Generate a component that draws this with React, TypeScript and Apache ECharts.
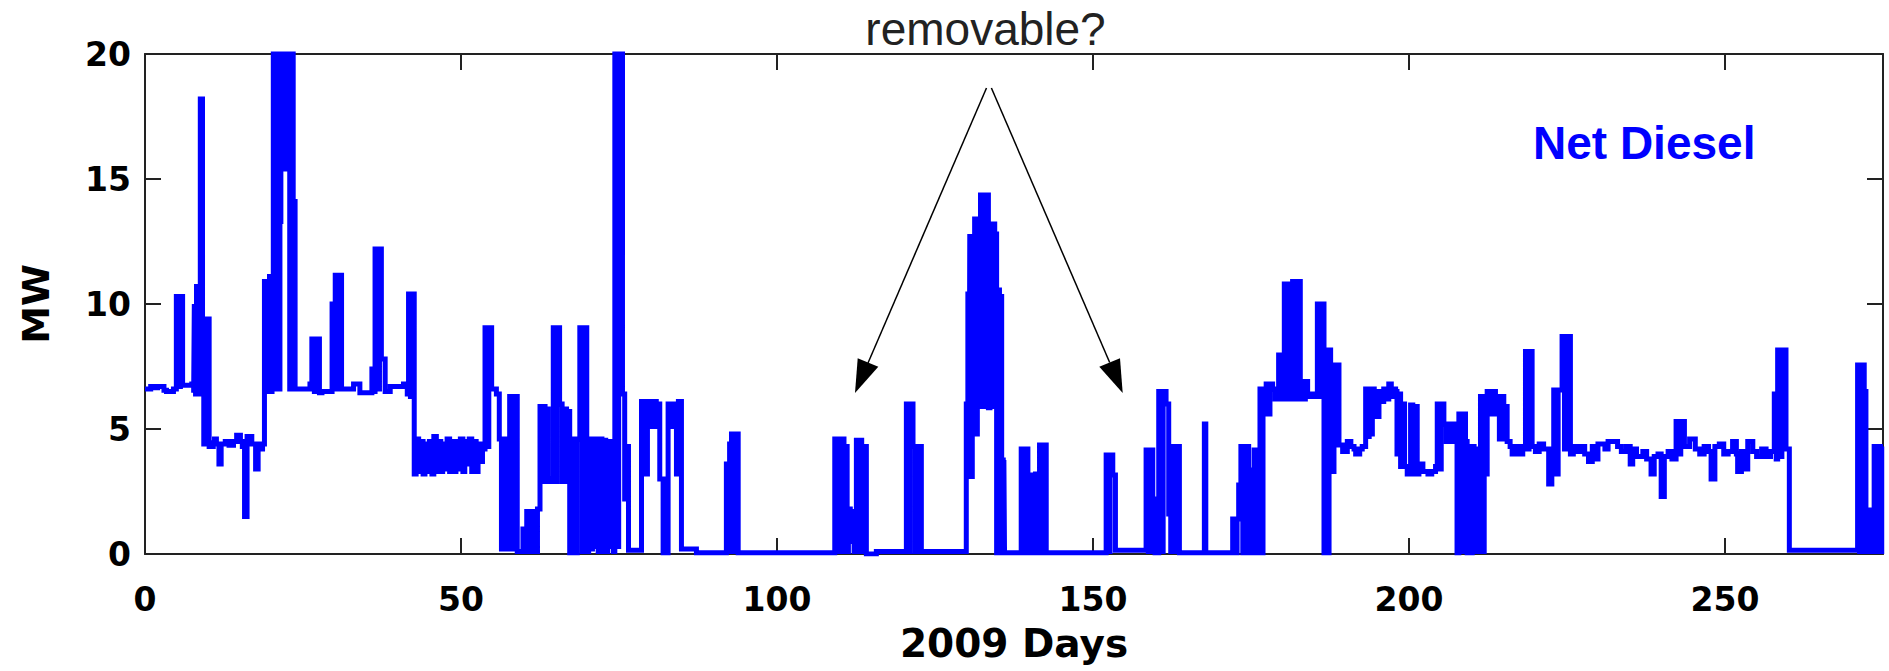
import React, { useEffect, useRef } from "react";
import * as echarts from "echarts";

// Net diesel output, [day of 2009, MW]; each level holds until the next day listed.
const segA: [number, number][] = [
  [0, 6.6], [0.9, 6.7], [1.6, 6.65], [2.0, 6.7], [3.0, 6.55], [3.4, 6.5], [4.5, 6.6],
  [4.96, 10.3], [5.3, 6.7], [5.6, 10.3], [5.95, 6.75], [7.4, 6.8], [7.7, 6.45],
  [7.8, 9.9], [8.0, 6.4], [8.15, 10.7], [8.4, 6.4], [8.55, 10.7], [8.75, 18.2], [9.1, 9.4],
  [9.3, 4.4], [9.5, 9.4], [9.7, 4.4], [9.85, 9.4], [10.15, 4.3],
  [10.8, 4.45], [11.0, 4.6], [11.3, 4.4], [11.7, 3.6], [12.05, 4.4], [12.7, 4.5], [13.3, 4.35],
  [14.0, 4.5], [14.5, 4.75], [15.1, 4.5], [15.4, 4.3], [15.75, 1.5], [16.15, 4.7], [16.9, 4.4],
  [17.5, 3.4], [17.9, 4.4], [18.3, 4.2], [18.6, 4.4],
  [18.9, 10.9], [19.1, 6.5], [19.3, 10.9], [19.5, 6.5], [19.7, 11.1], [19.9, 6.5], [20.1, 11.1],
  [20.3, 22], [20.5, 6.6], [20.65, 22], [20.85, 6.6], [21.0, 22], [21.2, 6.6], [21.35, 13.3],
  [21.5, 22], [21.7, 15.4], [21.9, 22], [22.1, 15.4], [22.3, 22], [22.45, 16.5], [22.65, 22],
  [22.9, 6.6], [23.05, 22], [23.45, 14.1], [23.75, 6.6],
];

const segB: [number, number][] = [
  [24.0, 6.6], [26.1, 6.8], [26.4, 8.6], [26.8, 6.5], [27.1, 8.6], [27.6, 6.45], [28.0, 6.5],
  [29.6, 10.0], [29.9, 6.6], [30.1, 11.15], [30.5, 6.6], [30.8, 11.15], [31.1, 6.6],
  [33.0, 6.8], [34.0, 6.45], [35.9, 7.4], [36.2, 6.5], [36.4, 12.2], [36.8, 6.6], [37.1, 12.2],
  [37.4, 7.8], [38.0, 6.5], [38.8, 6.7], [40.9, 6.8], [41.5, 6.4], [41.7, 10.4], [42.0, 6.3],
  [42.3, 10.4], [42.6, 3.2],
  [42.9, 4.6], [43.3, 3.3], [43.6, 4.5], [44.0, 3.2], [44.3, 4.4], [44.7, 3.3], [45.0, 4.5],
  [45.4, 3.2], [45.7, 4.7], [46.1, 3.3], [46.4, 4.5], [46.8, 3.3], [47.1, 4.4], [47.5, 3.4],
  [47.8, 4.6], [48.2, 3.3], [48.5, 4.5], [48.9, 3.3], [49.2, 4.5], [49.6, 3.4], [49.9, 4.6],
  [50.3, 3.3], [50.6, 4.5], [51.0, 3.6], [51.3, 4.6], [51.7, 3.3], [52.0, 4.5], [52.4, 3.3],
  [52.7, 4.4], [53.1, 3.7], [53.4, 4.2],
];

const segC: [number, number][] = [
  [53.8, 9.05], [54.1, 4.3], [54.4, 9.05], [54.85, 6.6], [55.6, 6.4], [56.06, 4.6],
  [56.4, 0.2], [56.7, 4.6], [57.0, 0.2], [57.3, 4.5], [57.7, 6.3], [58.0, 0.2], [58.3, 6.3],
  [58.9, 0.1], [59.8, 1.0], [60.1, 0.1], [60.4, 1.7], [60.7, 0.1], [61.0, 1.7], [61.3, 0.1],
  [61.6, 1.7], [61.9, 0.1], [62.1, 1.8],
  [62.5, 5.9], [62.8, 2.9], [63.1, 5.9], [63.3, 4.6], [63.6, 5.8], [63.8, 2.9], [64.2, 3.0],
  [64.6, 9.05], [64.9, 2.9], [65.2, 9.05], [65.6, 6.0], [66.0, 2.9], [66.3, 5.8], [66.7, 2.9],
  [67.0, 5.7], [67.2, 0.05],
  [67.8, 4.6], [68.1, 0.05], [68.4, 4.6], [68.8, 9.05], [69.2, 0.1], [69.5, 9.05], [69.9, 0.1],
  [70.2, 4.6], [70.5, 0.2], [70.8, 4.6], [71.1, 0.3], [71.4, 4.6], [71.7, 0.1], [72.0, 4.6],
  [72.3, 0.1], [72.6, 4.55], [72.9, 0.1], [73.2, 4.5], [73.5, 0.3], [73.8, 4.5], [74.1, 0.1],
  [74.34, 22], [74.7, 0.3], [74.95, 22], [75.55, 6.4], [75.9, 2.2], [76.2, 4.3], [76.5, 0.15],
  [78.56, 6.1], [79.1, 3.2], [79.5, 6.1], [79.87, 5.1], [80.3, 6.1], [80.9, 5.1], [81.2, 6.0],
  [81.45, 3.0], [81.98, 0.05], [82.77, 6.0], [83.3, 5.1], [83.6, 6.0], [84.09, 3.2], [84.4, 6.1],
  [84.88, 0.2], [87.25, 0.05],
  [91.99, 3.6], [92.3, 0.1], [92.5, 4.4], [92.8, 4.8], [93.2, 0.1], [93.5, 4.8], [93.86, 0.05],
];

const segD: [number, number][] = [
  [109.14, 4.6], [109.4, 0.1], [109.7, 4.6], [110.0, 0.1], [110.3, 4.6], [110.6, 0.1],
  [110.9, 4.3], [111.1, 0.1], [111.3, 1.8], [111.6, 0.5], [111.9, 1.7], [112.2, 0.1],
  [112.56, 4.55], [112.85, 0.1], [113.1, 4.55], [113.4, 0.1], [113.7, 4.3], [114.14, 0.0],
  [115.72, 0.1],
  [120.47, 6.0], [120.8, 0.1], [121.1, 6.0], [121.52, 4.3], [121.9, 0.1], [122.2, 4.3],
  [122.5, 0.1], [122.7, 4.3], [122.84, 0.1],
  [129.95, 6.0], [130.2, 10.4], [130.4, 3.1], [130.5, 12.7], [130.7, 3.1], [130.9, 12.7],
  [131.05, 4.8], [131.27, 13.4], [131.5, 4.8], [131.7, 13.4], [131.9, 5.9], [132.2, 14.36],
  [132.45, 5.9], [132.7, 14.36], [132.95, 5.9], [133.2, 14.36], [133.45, 5.85], [133.7, 13.2],
  [133.95, 5.9], [134.2, 13.2], [134.45, 5.9], [134.6, 12.8], [134.75, 0.05], [134.95, 10.56],
  [135.2, 0.05], [135.35, 10.3], [135.55, 3.76], [135.8, 0.05], [135.9, 3.76], [136.0, 0.05],
];

const segE: [number, number][] = [
  [138.64, 4.2], [139.0, 0.05], [139.3, 4.2], [139.7, 0.05], [140.22, 3.16], [140.6, 0.05],
  [140.9, 3.2], [141.2, 0.05], [141.54, 4.36], [141.9, 0.05], [142.2, 4.36], [142.6, 0.05],
  [152.08, 3.96], [152.4, 0.1], [152.7, 3.96], [153.13, 3.16], [153.55, 0.15],
  [158.4, 4.16], [158.75, 0.1], [159.05, 4.16], [159.46, 2.2], [159.82, 0.05],
  [160.4, 6.5], [160.8, 0.1], [161.1, 6.5], [161.56, 6.0], [161.98, 1.6], [162.3, 0.1],
  [162.6, 4.3], [162.95, 0.1], [163.3, 4.3], [163.67, 0.05],
  [167.62, 5.2], [167.85, 0.05],
  [172.1, 1.4], [172.5, 0.05], [172.8, 1.4], [173.05, 2.76], [173.4, 4.3], [173.7, 0.05],
  [174.0, 4.3], [174.63, 0.05], [175.16, 3.36], [175.5, 4.16], [175.8, 0.05], [176.1, 4.16],
  [176.42, 6.6], [176.7, 0.05], [176.9, 6.6], [177.1, 5.6], [177.4, 6.8], [177.7, 5.6],
  [178.0, 6.8], [178.42, 6.6], [178.8, 6.2], [179.37, 7.96], [179.7, 6.2], [180.0, 7.96],
  [180.27, 10.8], [180.6, 6.2], [180.9, 10.8], [181.2, 6.2], [181.58, 10.9], [181.9, 6.2],
  [182.2, 10.9], [182.5, 6.2], [182.64, 10.9], [182.8, 6.9], [183.3, 6.2], [183.6, 6.9],
  [183.96, 6.3], [184.6, 6.4], [185.2, 6.3],
];

const segF: [number, number][] = [
  [185.5, 10.0], [186.0, 6.3], [186.3, 10.0], [186.55, 0.05], [186.8, 8.16], [187.1, 0.05],
  [187.35, 8.16], [187.6, 7.56], [187.87, 3.3], [188.13, 7.56], [188.92, 4.36], [189.5, 4.1],
  [190.24, 4.5], [190.8, 4.3], [191.3, 4.2], [191.56, 4.0], [192.2, 4.2], [192.6, 4.3],
  [193.14, 6.6], [193.4, 4.7], [193.7, 6.6], [193.93, 4.8], [194.2, 6.6], [194.5, 5.5],
  [194.72, 6.5], [195.0, 5.5], [195.25, 6.5], [195.6, 6.1], [196.0, 6.6], [196.4, 6.2],
  [196.8, 6.8], [197.2, 6.3], [197.5, 6.6], [197.88, 6.5], [198.1, 4.0], [198.4, 6.4],
  [198.67, 3.5], [199.0, 6.0], [199.3, 3.5], [199.72, 3.2], [200.25, 5.96], [200.6, 3.2],
  [200.9, 5.9], [201.3, 3.2], [201.57, 3.6], [202.2, 3.3], [203.0, 3.2], [203.6, 3.3],
  [204.2, 3.5], [204.47, 6.0], [204.8, 3.4], [205.1, 6.0], [205.52, 5.2], [205.9, 4.5],
  [206.3, 5.2], [206.7, 4.5], [207.1, 5.2], [207.36, 4.5], [207.6, 0.05], [207.89, 5.6],
  [208.2, 0.1], [208.5, 5.6], [208.94, 4.5], [209.2, 0.05], [209.47, 4.3], [209.75, 0.05],
  [210.0, 4.3], [210.3, 0.1], [210.6, 4.2], [210.9, 0.1], [211.1, 4.2], [211.31, 6.3],
  [211.6, 0.1], [211.9, 6.3], [212.2, 3.2], [212.37, 6.5], [212.8, 5.6], [213.2, 6.5],
  [213.68, 5.6], [214.0, 6.3], [214.3, 4.6], [214.74, 6.3], [215.0, 5.9], [215.53, 4.5],
  [216.0, 4.3], [216.32, 4.0], [217.0, 4.3], [217.6, 4.0], [218.0, 4.3], [218.43, 8.1],
  [218.75, 4.2], [219.0, 8.1], [219.48, 4.3], [220.0, 4.1], [220.6, 4.4], [221.3, 4.2],
  [222.1, 2.8], [222.6, 4.2], [222.9, 6.56], [223.3, 3.2], [223.6, 6.56], [224.22, 8.7],
  [224.6, 4.2], [224.9, 8.7], [225.54, 4.0], [226.0, 4.3], [226.6, 4.1], [227.2, 4.3],
  [227.8, 4.0],
];

const segG: [number, number][] = [
  [228.4, 3.7], [229.0, 4.3], [229.6, 3.8], [229.9, 4.4], [231.0, 4.2], [231.5, 4.5],
  [233.0, 4.3], [233.6, 4.1], [234.4, 4.3], [235.0, 3.6], [235.4, 4.2], [236.0, 3.9],
  [237.0, 4.1], [237.6, 3.8], [238.3, 3.2], [238.8, 3.9], [239.4, 4.0], [239.9, 2.3],
  [240.4, 3.9], [241.0, 4.1], [241.6, 3.8], [242.26, 5.3], [242.7, 4.0], [243.0, 5.3],
  [243.58, 4.3], [244.4, 4.6], [245.3, 4.2], [246.0, 4.0], [246.7, 4.3], [247.4, 4.1],
  [247.8, 3.0], [248.4, 4.3], [249.1, 4.4], [249.8, 4.0], [250.5, 4.1], [251.2, 4.5],
  [251.8, 4.0], [252.0, 3.3], [252.6, 4.1], [253.2, 3.4], [253.6, 4.5], [254.4, 4.1],
  [255.0, 3.9], [255.8, 4.2], [256.5, 3.9], [257.2, 4.1], [257.8, 6.4], [258.1, 3.8],
  [258.33, 8.16], [258.7, 3.9], [259.0, 8.16], [259.65, 4.2], [260.18, 0.15],
  [270.98, 7.56], [271.3, 0.1], [271.6, 7.56], [272.03, 6.5], [272.3, 0.1], [272.56, 1.76],
  [272.9, 0.1], [273.2, 1.76], [273.6, 4.3], [273.9, 0.1], [274.2, 4.3], [274.5, 0.1],
  [274.8, 4.3], [275, 4.3],
];

const xTicks = [0, 50, 100, 150, 200, 250];
const yTicks = [0, 5, 10, 15, 20];
const xTitle = "2009 Days";
const yTitle = "MW";
const seriesLabel = "Net Diesel";
const noteText = "removable?";

const netDiesel = [...segA, ...segB, ...segC, ...segD, ...segE, ...segF, ...segG];

export default function App() {
  const ref = useRef<HTMLDivElement>(null);
  useEffect(() => {
    if (!ref.current) return;
    const chart = echarts.init(ref.current, undefined, { renderer: "svg" });
    const frameLine = { show: true, onZero: false, lineStyle: { color: "#222", width: 2 } };
    const tick = { show: true, inside: true, length: 16, lineStyle: { color: "#222", width: 2 } };
    const labelFont = { fontFamily: "DejaVu Sans", fontWeight: "bold", fontSize: 33, color: "#000" };
    chart.setOption({
      animation: false,
      backgroundColor: "#fff",
      grid: { left: 145, right: 6, top: 54, bottom: 117, containLabel: false },
      xAxis: [
        {
          type: "value", min: 0, max: 275, interval: 50, position: "bottom",
          name: xTitle, nameLocation: "middle", nameGap: 70,
          nameTextStyle: { fontFamily: "DejaVu Sans", fontWeight: "bold", fontSize: 39, color: "#000" },
          axisLine: frameLine, axisTick: tick,
          axisLabel: {
            ...labelFont, margin: 29,
            formatter: (v: number) => (xTicks.includes(v) ? String(v) : ""),
          },
          splitLine: { show: false },
        },
        {
          type: "value", min: 0, max: 275, interval: 50, position: "top",
          axisLine: frameLine, axisTick: tick, axisLabel: { show: false }, splitLine: { show: false },
        },
      ],
      yAxis: [
        {
          type: "value", min: 0, max: 20, interval: 5, position: "left",
          name: yTitle, nameLocation: "middle", nameGap: 90,
          nameTextStyle: { fontFamily: "DejaVu Sans", fontWeight: "bold", fontSize: 38, color: "#000" },
          axisLine: frameLine, axisTick: tick,
          axisLabel: {
            ...labelFont, margin: 14,
            formatter: (v: number) => (yTicks.includes(v) ? String(v) : ""),
          },
          splitLine: { show: false },
        },
        {
          type: "value", min: 0, max: 20, interval: 5, position: "right",
          axisLine: frameLine, axisTick: tick, axisLabel: { show: false }, splitLine: { show: false },
        },
      ],
      series: [
        {
          name: seriesLabel,
          type: "line",
          xAxisIndex: 0,
          yAxisIndex: 0,
          data: netDiesel,
          step: "end",
          symbol: "none",
          showSymbol: false,
          clip: true,
          lineStyle: { color: "#0000ff", width: 5, join: "miter", cap: "butt" },
        },
      ],
      graphic: [
        {
          type: "text", x: 985.5, y: 29, z: 10,
          style: {
            text: noteText, fontFamily: "Liberation Sans", fontSize: 46,
            fill: "#222", align: "center", verticalAlign: "middle",
          },
        },
        {
          type: "text", x: 1533, y: 142.5, z: 10,
          style: {
            text: seriesLabel, fontFamily: "Liberation Sans", fontSize: 46, fontWeight: "bold",
            fill: "#0000ff", align: "left", verticalAlign: "middle",
          },
        },
        {
          type: "line", z: 10,
          shape: { x1: 986.5, y1: 88, x2: 868, y2: 363 },
          style: { stroke: "#000", lineWidth: 1.5 },
        },
        {
          type: "polygon", z: 10,
          shape: { points: [[855, 393], [857.7, 358.3], [878.3, 366.7]] },
          style: { fill: "#000" },
        },
        {
          type: "line", z: 10,
          shape: { x1: 991.4, y1: 88, x2: 1109.7, y2: 362.5 },
          style: { stroke: "#000", lineWidth: 1.5 },
        },
        {
          type: "polygon", z: 10,
          shape: { points: [[1122.7, 393], [1099.3, 366.7], [1120, 358.3]] },
          style: { fill: "#000" },
        },
      ],
    });
    return () => chart.dispose();
  }, []);
  return (
    <div
      ref={ref}
      style={{ position: "fixed", left: 0, top: 0, width: 1889, height: 671, background: "#fff" }}
    />
  );
}
